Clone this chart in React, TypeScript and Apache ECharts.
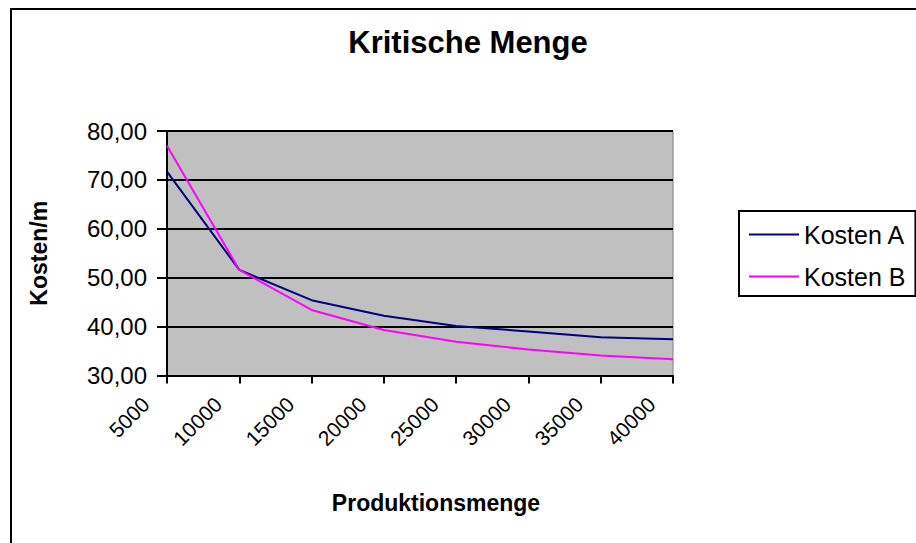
import React, { useEffect, useRef } from "react";
import * as echarts from "echarts";

const categories = ["5000", "10000", "15000", "20000", "25000", "30000", "35000", "40000"];
const kostenA = [71.7, 51.6, 45.4, 42.2, 40.1, 39.0, 37.8, 37.4];
const kostenB = [77.0, 51.6, 43.4, 39.3, 36.9, 35.3, 34.1, 33.3];
const seriesNames = ["Kosten A", "Kosten B"];
const titleText = "Kritische Menge";
const xAxisTitle = "Produktionsmenge";
const yAxisTitle = "Kosten/m";

const FONT = "'Liberation Sans', Arial, sans-serif";

export default function App() {
  const ref = useRef<HTMLDivElement>(null);
  useEffect(() => {
    document.body.style.margin = "0";
    const chart = echarts.init(ref.current!, null, { renderer: "svg" });
    chart.setOption({
      animation: false,
      backgroundColor: "#ffffff",
      textStyle: { fontFamily: FONT },
      title: {
        text: titleText,
        left: 468,
        textAlign: "center",
        top: 27,
        padding: 0,
        textStyle: { fontFamily: FONT, fontSize: 31, fontWeight: "bold", color: "#000" },
      },
      graphic: [
        {
          type: "rect",
          silent: true,
          z: -10,
          shape: { x: 11, y: 9, width: 1000, height: 1000 },
          style: { fill: "none", stroke: "#000", lineWidth: 2 },
        },
      ],
      legend: {
        left: 739,
        top: 211,
        orient: "vertical",
        icon: "rect",
        itemWidth: 50,
        itemHeight: 2,
        itemGap: 17,
        padding: [11, 10, 7, 10],
        borderColor: "#000",
        borderWidth: 2,
        borderRadius: 0,
        backgroundColor: "#fff",
        data: seriesNames,
        textStyle: { fontFamily: FONT, fontSize: 25, color: "#000", lineHeight: 25 },
      },
      grid: {
        left: 167,
        top: 131,
        right: 243,
        bottom: 167.5,
        show: true,
        backgroundColor: "#C0C0C0",
        borderColor: "#808080",
        borderWidth: 1,
      },
      xAxis: {
        type: "category",
        data: categories,
        boundaryGap: false,
        name: xAxisTitle,
        nameLocation: "middle",
        nameGap: 116,
        nameTextStyle: {
          fontFamily: FONT,
          fontSize: 23,
          fontWeight: "bold",
          color: "#000",
          padding: [0, 0, 0, 32],
        },
        axisLine: { show: true, lineStyle: { color: "#000", width: 2 } },
        axisTick: { show: true, length: 8, lineStyle: { color: "#000", width: 2 } },
        axisLabel: {
          rotate: 45,
          margin: 4,
          padding: [0, 30, 0, 0],
          fontFamily: FONT,
          fontSize: 21,
          color: "#000",
          interval: 0,
        },
        splitLine: { show: false },
      },
      yAxis: {
        type: "value",
        min: 30,
        max: 80,
        interval: 10,
        name: yAxisTitle,
        nameLocation: "middle",
        nameRotate: 90,
        nameGap: 117,
        nameTextStyle: { fontFamily: FONT, fontSize: 23, fontWeight: "bold", color: "#000" },
        axisLine: { show: true, lineStyle: { color: "#000", width: 2 } },
        axisTick: { show: true, length: 10, lineStyle: { color: "#000", width: 2 } },
        axisLabel: {
          margin: 20,
          fontFamily: FONT,
          fontSize: 24,
          color: "#000",
          formatter: (v: number) => v.toFixed(2).replace(".", ","),
        },
        splitLine: { show: true, lineStyle: { color: "#000", width: 2 } },
      },
      series: [
        {
          name: seriesNames[0],
          type: "line",
          data: kostenA,
          symbol: "none",
          lineStyle: { color: "#000080", width: 2 },
          itemStyle: { color: "#000080" },
        },
        {
          name: seriesNames[1],
          type: "line",
          data: kostenB,
          symbol: "none",
          lineStyle: { color: "#FF00FF", width: 2 },
          itemStyle: { color: "#FF00FF" },
        },
      ],
    });
    return () => chart.dispose();
  }, []);
  return <div ref={ref} style={{ width: 916, height: 543 }} />;
}
